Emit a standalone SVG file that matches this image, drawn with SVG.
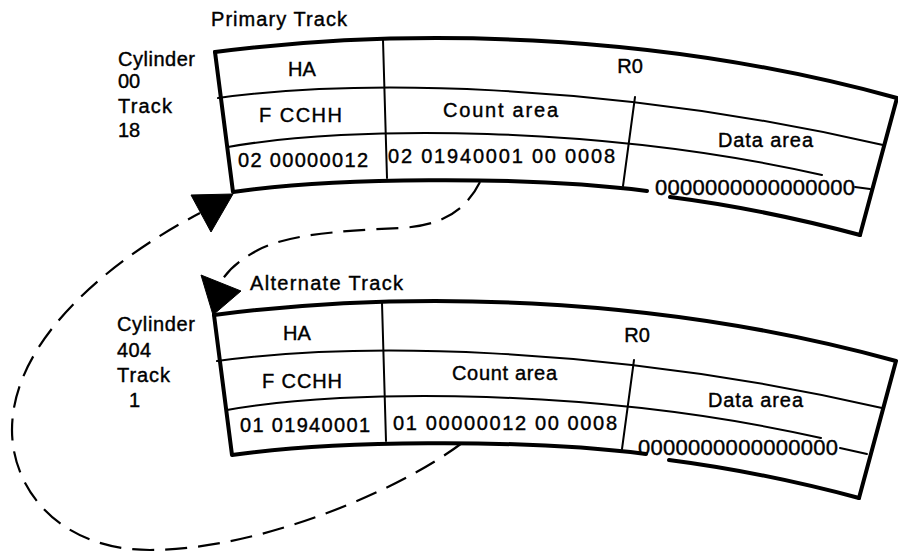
<svg xmlns="http://www.w3.org/2000/svg" xmlns:xlink="http://www.w3.org/1999/xlink" width="898" height="552" viewBox="0 0 898 552">
  <style>
    .frame { fill: none; stroke: #000; stroke-width: 4; stroke-linecap: round; stroke-linejoin: round; }
    .rule { fill: none; stroke: #000; stroke-width: 2; stroke-linecap: round; }
    .dash { fill: none; stroke: #000; stroke-width: 2.2; stroke-dasharray: 22 11; }
    .head { fill: #000; stroke: #000; stroke-width: 1; stroke-linejoin: round; }
    text { font-family: "Liberation Sans", Arial, Helvetica, sans-serif; font-size: 20px; fill: #000; stroke: #000; stroke-width: 0.4; }
    .mid { text-anchor: middle; }
    .zeros { font-size: 22px; }
  </style>
  <defs>
    <!-- curved track record layout: HA, R0 (count area + data area) -->
    <g id="track-frame">
      <path class="frame" d="M215,52 C400,28 650,30 897,98 L860,235"/>
      <path class="frame" d="M215,52 L233,192 C330,178 520,175 647,191"/>
      <path class="frame" d="M670,197 C740,206 800,219 860,235"/>
      <path class="rule" d="M218,98 C350,80 600,80 883,145"/>
      <path class="rule" d="M228,147 C350,125 600,125 822,175"/>
      <path class="rule" d="M383,40 L387,178"/>
      <path class="rule" d="M635,97 L623,186"/>
    </g>
  </defs>

  <g id="primary-track">
    <use xlink:href="#track-frame" href="#track-frame"/>
    <path class="rule" d="M855,187 L870,189"/>
    <text x="211" y="26" textLength="136" lengthAdjust="spacing">Primary Track</text>
    <text x="118" y="66" textLength="77" lengthAdjust="spacing">Cylinder</text>
    <text x="118" y="88">00</text>
    <text x="118" y="113" textLength="54" lengthAdjust="spacing">Track</text>
    <text x="118" y="137">18</text>
    <text class="mid" x="302" y="76">HA</text>
    <text class="mid" x="630" y="73">R0</text>
    <text x="259" y="122" textLength="83" lengthAdjust="spacing">F CCHH</text>
    <text x="443" y="117" textLength="115" lengthAdjust="spacing">Count area</text>
    <text x="718" y="147" textLength="95" lengthAdjust="spacing">Data area</text>
    <text x="238" y="167" textLength="130" lengthAdjust="spacing">02 00000012</text>
    <text x="388" y="163" textLength="227" lengthAdjust="spacing">02 01940001 00 0008</text>
    <text class="zeros" x="655" y="195" textLength="200" lengthAdjust="spacing">0000000000000000</text>
  </g>

  <g id="alternate-track">
    <use xlink:href="#track-frame" href="#track-frame" transform="translate(-1,263)"/>
    <path class="rule" d="M840,448 L867,454"/>
    <text x="250" y="290" textLength="153" lengthAdjust="spacing">Alternate Track</text>
    <text x="117" y="331" textLength="78" lengthAdjust="spacing">Cylinder</text>
    <text x="117" y="357" textLength="34" lengthAdjust="spacing">404</text>
    <text x="117" y="382" textLength="53" lengthAdjust="spacing">Track</text>
    <text x="129" y="407">1</text>
    <text class="mid" x="297" y="340">HA</text>
    <text class="mid" x="637" y="342">R0</text>
    <text x="262" y="388" textLength="80" lengthAdjust="spacing">F CCHH</text>
    <text x="452" y="380" textLength="105" lengthAdjust="spacing">Count area</text>
    <text x="708" y="407" textLength="95" lengthAdjust="spacing">Data area</text>
    <text x="240" y="432" textLength="130" lengthAdjust="spacing">01 01940001</text>
    <text x="393" y="430" textLength="224" lengthAdjust="spacing">01 00000012 00 0008</text>
    <text class="zeros" x="638" y="455" textLength="200" lengthAdjust="spacing">0000000000000000</text>
  </g>

  <g id="connectors">
    <!-- primary count area to alternate track -->
    <path class="dash" d="M480,182 C465,212 440,226 400,228 C330,231 285,236 258,250 C240,260 230,268 222,280"/>
    <polygon class="head" points="201,275 241,291 213,315"/>
    <!-- alternate count area back round to primary track -->
    <path class="dash" d="M462,443 C400,490 260,550 150,550 C60,550 12,490 12,430 C12,340 110,260 200,213"/>
    <polygon class="head" points="191,195 233,194 211,232"/>
  </g>
</svg>
